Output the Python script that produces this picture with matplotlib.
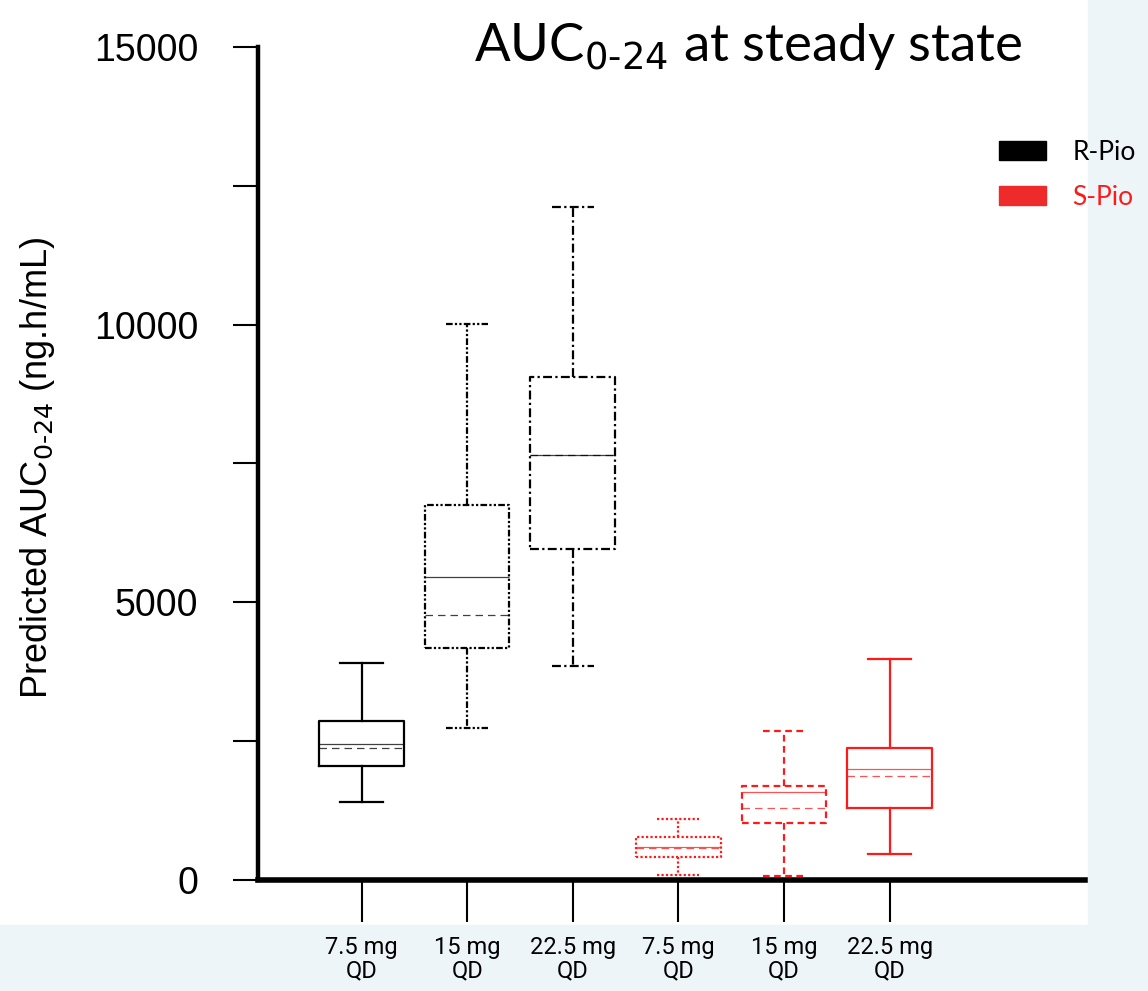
import matplotlib
matplotlib.use("Agg")
import matplotlib.pyplot as plt
from matplotlib.patches import Rectangle, Patch

# values (ng.h/mL)
groups = ['7.5 mg\nQD', '15 mg\nQD', '22.5 mg\nQD', '7.5 mg\nQD', '15 mg\nQD', '22.5 mg\nQD']
whislo = [1405, 2737, 3854, 90, 72, 468]
q1 = [2053, 4178, 5961, 414, 1026, 1297]
med = [2449, 5456, 7653, 594, 1585, 1999]
mean = [2377, 4772, 7653, 580, 1297, 1873]
q3 = [2863, 6753, 9058, 774, 1693, 2377]
whishi = [3908, 10012, 12120, 1098, 2683, 3980]
series = ['R-Pio', 'R-Pio', 'R-Pio', 'S-Pio', 'S-Pio', 'S-Pio']

colors = {'R-Pio': 'black', 'S-Pio': '#ff1a1a'}
styles = ['-', (0, (3, 1, 1, 1, 1, 1)), (0, (4, 1.5, 1, 1.5)), (0, (1, 1)), (0, (3, 2)), '-']

fig = plt.figure(figsize=(11.48, 9.91), dpi=100)
fig.patch.set_facecolor('white')
# light blue background strips
fig.patches.append(Rectangle((1088 / 1148, 0), 1, 1, transform=fig.transFigure, color='#edf5f9', zorder=-10))
fig.patches.append(Rectangle((0, 0), 1, 66 / 991, transform=fig.transFigure, color='#edf5f9', zorder=-10))

ax = fig.add_axes([258 / 1148, 111 / 991, 827 / 1148, 833 / 991])
ax.set_facecolor('white')

stats = []
for i in range(len(groups)):
    stats.append(dict(whislo=whislo[i], q1=q1[i], med=med[i], mean=mean[i],
                      q3=q3[i], whishi=whishi[i], fliers=[], label=groups[i]))

pos = list(range(1, len(groups) + 1))
bp = ax.bxp(stats, positions=pos, widths=0.8, showmeans=True, meanline=True,
            showfliers=False, capwidths=0.4)

for i in range(len(groups)):
    c = colors[series[i]]
    ls = styles[i]
    bp['boxes'][i].set(color=c, linestyle=ls, linewidth=1.6)
    for j in (2 * i, 2 * i + 1):
        bp['whiskers'][j].set(color=c, linestyle=ls, linewidth=1.6)
        bp['caps'][j].set(color=c, linestyle=ls, linewidth=1.6)
    bp['medians'][i].set(color=c, linestyle='-', linewidth=0.9, alpha=0.75)
    bp['means'][i].set(color=c, linestyle=(0, (6, 4)), linewidth=0.9, alpha=0.75)

ax.set_xlim(0.02, 7.85)
ax.set_ylim(0, 15000)
ax.set_yticks([0, 2500, 5000, 7500, 10000, 12500, 15000])
ax.set_yticklabels(['0', '', '5000', '', '10000', '', '15000'])
ax.set_xticks(pos)
ax.set_xticklabels(groups, fontsize=17, family='Roboto', linespacing=1.05)

ax.spines['top'].set_visible(False)
ax.spines['right'].set_visible(False)
ax.spines['left'].set_linewidth(3.2)
ax.spines['bottom'].set_linewidth(4)
ax.tick_params(axis='y', length=18, width=1.5, pad=25, labelsize=27)
ax.tick_params(axis='x', length=30, width=1.5, pad=10)
for t in ax.get_yticklabels():
    t.set_family('Liberation Sans')

fig.text(38 / 1148, 1 - 468 / 991, 'Predicted AUC$_{0\\text{-}24}$ (ng.h/mL)', rotation=90,
         ha='center', va='center', fontsize=26, family='Liberation Sans')
fig.text(748 / 1148, 1 - 48 / 991, 'AUC$_{0\\text{-}24}$ at steady state',
         ha='center', va='center', fontsize=38, family='Lato')

handles = [Patch(color='black'), Patch(color='#ee2a2a')]
leg = ax.legend(handles, ['R-Pio', 'S-Pio'], loc='upper left',
                bbox_to_anchor=(975 / 1148, 1 - 116 / 991), bbox_transform=fig.transFigure,
                frameon=False, handlelength=1.8, handleheight=0.75,
                labelspacing=0.75, handletextpad=1.0, prop={'family': 'Lato', 'size': 19})
leg.get_texts()[1].set_color('#ff1a1a')

fig.savefig('out.png', dpi=100)
